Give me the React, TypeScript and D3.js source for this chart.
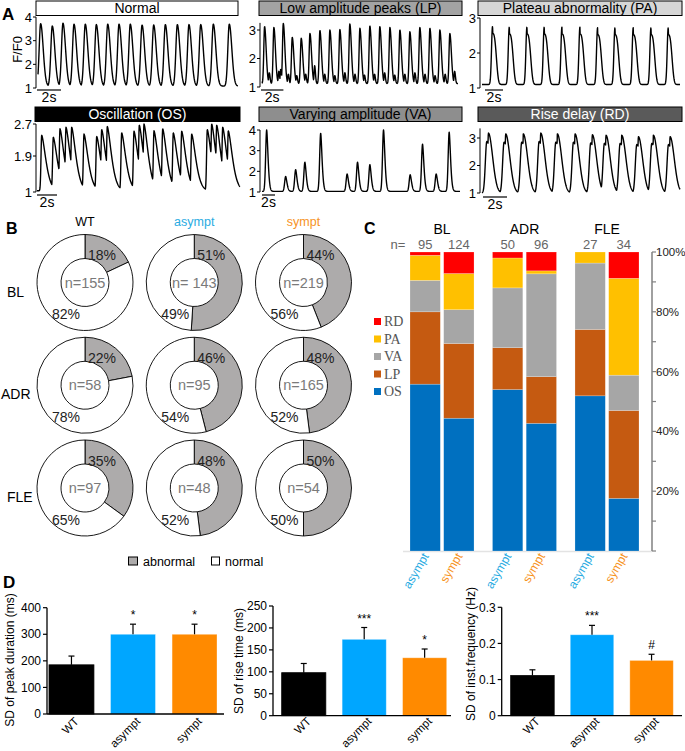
import React from 'react';
import * as d3 from 'd3';

const SANS = '"Liberation Sans", Arial, Helvetica, sans-serif';
const SERIF = '"Liberation Serif", "Times New Roman", Times, serif';

// ================= Panel A data (peak times in s, peak values in F/F0) =================
const normalPeakT = [0.22, 1.19, 2.08, 3.0, 3.94, 4.86, 5.81, 6.75, 7.69, 8.67, 9.64, 10.61, 11.61, 12.58, 13.56, 14.61, 15.94];
const normalPeakV = [3.72, 3.62, 3.74, 3.7, 3.7, 3.68, 3.7, 3.7, 3.7, 3.66, 3.66, 3.68, 3.68, 3.68, 3.68, 3.7, 3.7];

const lpPeakT = [0.18, 1.01, 1.85, 2.65, 3.45, 4.23, 5.12, 6.01, 6.9, 7.79, 8.69, 9.58, 10.47, 11.37, 12.26, 13.15, 14.04, 14.94, 15.83, 16.72];
const lpPeakV = [3.12, 3.09, 3.23, 2.74, 2.71, 2.88, 2.98, 3.0, 3.02, 3.21, 3.06, 3.14, 3.12, 3.09, 3.0, 2.94, 3.09, 3.06, 3.0, 2.88];
const lpSmallT = [0.6, 1.45, 1.62, 2.3, 3.05, 3.85, 4.65, 5.55, 6.45, 7.35, 8.25, 9.1, 10.0, 10.9, 11.8, 12.7, 13.6, 14.5, 15.4, 16.3, 17.15];
const lpSmallV = [1.5, 1.55, 1.62, 1.45, 1.4, 1.45, 1.75, 1.45, 1.4, 1.5, 1.45, 1.42, 1.45, 1.5, 1.42, 1.45, 1.5, 1.45, 1.4, 1.45, 1.55];

const paPeakT = [1.07, 2.93, 4.89, 6.81, 8.78, 10.78, 12.74, 14.67, 16.7, 18.67, 20.59];
const paPeakV = [2.76, 2.74, 2.74, 2.74, 2.74, 2.74, 2.72, 2.72, 2.72, 2.72, 2.72];

const osPeakT = [0.47, 1.63, 2.3, 2.9, 3.47, 4.7, 5.97, 6.47, 7.03, 8.47, 9.7, 10.23, 10.7, 11.7, 12.57, 13.63, 14.47, 15.47, 17.03, 17.47, 17.97, 18.57, 19.13];
const osPeakV = [2.42, 2.37, 2.58, 2.62, 2.62, 2.45, 2.39, 2.56, 2.64, 2.48, 2.52, 2.67, 2.7, 2.53, 2.58, 2.48, 2.52, 2.45, 2.56, 2.7, 2.67, 2.62, 2.53];

const vaPeakT = [0.72, 3.64, 5.18, 6.6, 9.03, 13.1, 14.7, 16.6, 18.7, 22.8, 24.7, 26.8, 28.8];
const vaPeakV = [4.0, 1.75, 2.08, 2.44, 3.84, 1.87, 2.44, 2.32, 4.0, 1.83, 3.31, 1.87, 3.89];

const rdPeakT = [0.53, 1.97, 3.44, 4.89, 6.28, 7.75, 9.19, 10.33, 11.64, 13.03, 14.28, 15.67];
const rdPeakV = [3.18, 3.15, 3.15, 3.18, 3.15, 3.15, 3.12, 3.1, 3.1, 3.05, 3.1, 3.05];

// ================= Panel B data =================
const bGroups = ['WT', 'asympt', 'sympt'];
const bConditions = ['BL', 'ADR', 'FLE'];
const blAbnormal = [18, 51, 44];
const blNormal = [82, 49, 56];
const blN = ['n=155', 'n= 143', 'n=219'];
const adrAbnormal = [22, 46, 48];
const adrNormal = [78, 54, 52];
const adrN = ['n=58', 'n=95', 'n=165'];
const fleAbnormal = [35, 48, 50];
const fleNormal = [65, 52, 50];
const fleN = ['n=97', 'n=48', 'n=54'];

// ================= Panel C data (% of cells) =================
const cGroups = ['BL', 'ADR', 'FLE'];
const cPatients = ['asympt', 'sympt'];
const cCounts = [95, 124, 50, 96, 27, 34];
const cOS = [55.8, 44.4, 54, 42.7, 51.9, 17.6];
const cLP = [24.2, 25, 14, 15.6, 22.2, 29.4];
const cVA = [10.5, 11.3, 20, 34.4, 22.2, 11.8];
const cPA = [8.4, 12.1, 10, 1, 3.7, 32.4];
const cRD = [1.1, 7.2, 2, 6.3, 0, 8.8];
const cKeys = ['OS', 'LP', 'VA', 'PA', 'RD'];
const cLegend = ['RD', 'PA', 'VA', 'LP', 'OS'];
const cTicks = [20, 40, 60, 80, 100];

// ================= Panel D data =================
const dGroups = ['WT', 'asympt', 'sympt'];
const durMean = [185, 300, 300];
const durErr = [33, 38, 38];
const durSig = ['', '*', '*'];
const riseMean = [98, 174, 132];
const riseErr = [21, 27, 20];
const riseSig = ['', '***', '*'];
const freqMean = [0.111, 0.224, 0.153];
const freqErr = [0.016, 0.026, 0.017];
const freqSig = ['', '***', '#'];

// ================= colours =================
const BLUE_TXT = '#29abe2';
const ORANGE_TXT = '#f7931e';
const BAR_COL: Record<string, string> = { WT: '#000000', asympt: '#00a6ff', sympt: '#ff8a00' };
const STACK_COL: Record<string, string> = { RD: '#ff0000', PA: '#ffc000', VA: '#a6a6a6', LP: '#c55a11', OS: '#0070c0' };
const GROUP_TXT: Record<string, string> = { WT: '#000', asympt: BLUE_TXT, sympt: ORANGE_TXT };

// ================= trace helpers =================
type Comp = { t: number[]; v: number[]; rise: number; decay: number; pow: number; shift?: number; frac?: number };

function sampleTrace(base: number, comps: Comp[], t0: number, t1: number, step = 0.02): [number, number][] {
  const out: [number, number][] = [];
  const n = Math.round((t1 - t0) / step);
  for (let k = 0; k <= n; k++) {
    const t = t0 + k * step;
    let m = 0;
    for (const c of comps) {
      for (let i = 0; i < c.t.length; i++) {
        const dt = t - (c.t[i] + (c.shift ?? 0));
        const amp = (c.v[i] - base) * (c.frac ?? 1);
        const g = dt < 0 ? Math.exp(-((dt / c.rise) ** 2)) : Math.exp(-Math.pow(dt / c.decay, c.pow));
        const val = amp * g;
        if (val > m) m = val;
      }
    }
    out.push([t, base + m]);
  }
  return out;
}

interface TraceSpec {
  title: string; boxFill: string; textFill: string; boxX0: number; boxX1: number; boxY: number;
  axisX: number; x0: number; x1: number; t0: number; pps: number;
  yDomain: [number, number]; yRange: [number, number]; ticks: number[]; axisTop: number;
  base: number; comps: Comp[]; barY: number; barX: number; ylabel?: string;
}

const traceSpecs: TraceSpec[] = [
  {
    title: 'Normal', boxFill: '#ffffff', textFill: '#000', boxX0: 36, boxX1: 238, boxY: 1,
    axisX: 36, x0: 38, x1: 238, t0: 0, pps: 12, yDomain: [1, 4], yRange: [88, 17], ticks: [1, 2, 3, 4], axisTop: 4,
    base: 1.08, comps: [{ t: normalPeakT, v: normalPeakV, rise: 0.17, decay: 0.3, pow: 2 }], barY: 90, barX: 37, ylabel: 'F/F0',
  },
  {
    title: 'Low amplitude peaks (LP)', boxFill: '#a3a3a3', textFill: '#000', boxX0: 259, boxX1: 462, boxY: 1,
    axisX: 260, x0: 262, x1: 458, t0: -0.05, pps: 11.2, yDomain: [1, 3], yRange: [87, 30], ticks: [1, 2, 3], axisTop: 3.25,
    base: 1.12, comps: [
      { t: lpPeakT, v: lpPeakV, rise: 0.1, decay: 0.2, pow: 2 },
      { t: lpSmallT, v: lpSmallV, rise: 0.07, decay: 0.1, pow: 2 },
    ], barY: 90, barX: 261,
  },
  {
    title: 'Plateau abnormality (PA)', boxFill: '#d6d6d6', textFill: '#000', boxX0: 478, boxX1: 682, boxY: 1,
    axisX: 480, x0: 482, x1: 680, t0: -0.1, pps: 9, yDomain: [1, 3], yRange: [88, 18], ticks: [1, 2, 3], axisTop: 3,
    base: 1.1, comps: [
      { t: paPeakT, v: paPeakV, rise: 0.16, decay: 0.06, pow: 2 },
      { t: paPeakT, v: paPeakV, rise: 0.16, decay: 0.5, pow: 3, frac: 0.88 },
    ], barY: 90, barX: 485,
  },
  {
    title: 'Oscillation (OS)', boxFill: '#000000', textFill: '#fff', boxX0: 35, boxX1: 240, boxY: 107,
    axisX: 36, x0: 37, x1: 240, t0: 0, pps: 10, yDomain: [1, 2.7], yRange: [192, 124], ticks: [1, 1.9, 2.7], axisTop: 2.7,
    base: 1.03, comps: [{ t: osPeakT, v: osPeakV, rise: 0.1, decay: 0.6, pow: 1.5 }], barY: 195, barX: 37,
  },
  {
    title: 'Varying amplitude (VA)', boxFill: '#8e8e8e', textFill: '#000', boxX0: 259, boxX1: 462, boxY: 107,
    axisX: 260, x0: 262, x1: 460, t0: 0, pps: 6.5, yDomain: [1, 4], yRange: [192, 130], ticks: [1, 2, 3, 4], axisTop: 4,
    base: 1.03, comps: [{ t: vaPeakT, v: vaPeakV, rise: 0.22, decay: 0.3, pow: 1.6 }], barY: 195, barX: 262,
  },
  {
    title: 'Rise delay (RD)', boxFill: '#5a5a5a', textFill: '#fff', boxX0: 478, boxX1: 682, boxY: 107,
    axisX: 480, x0: 482, x1: 680, t0: 0, pps: 12, yDomain: [1, 3], yRange: [193, 138], ticks: [1, 2, 3], axisTop: 3.35,
    base: 1.0, comps: [
      { t: rdPeakT, v: rdPeakV, rise: 0.05, decay: 0.5, pow: 2 },
      { t: rdPeakT, v: rdPeakV, rise: 0.17, decay: 0.55, pow: 2, shift: -0.13, frac: 0.86 },
    ], barY: 197, barX: 483,
  },
];

function TracePanel({ s }: { s: TraceSpec }) {
  const t1 = s.t0 + (s.x1 - s.x0) / s.pps;
  const x = d3.scaleLinear().domain([s.t0, t1]).range([s.x0, s.x1]);
  const y = d3.scaleLinear().domain(s.yDomain).range(s.yRange);
  const pts = sampleTrace(s.base, s.comps, s.t0, t1);
  const line = d3.line<[number, number]>().x(d => x(d[0])).y(d => y(d[1]));
  const barLen = x(s.t0 + 2) - x(s.t0);
  return (
    <g>
      <rect x={s.boxX0} y={s.boxY} width={s.boxX1 - s.boxX0} height={14.5} fill={s.boxFill} stroke="#000" strokeWidth={1} />
      <text x={(s.boxX0 + s.boxX1) / 2} y={s.boxY + 12.3} textAnchor="middle" fontSize={14} fill={s.textFill}>{s.title}</text>
      <line x1={s.axisX} x2={s.axisX} y1={y(s.yDomain[0])} y2={y(s.axisTop)} stroke="#000" strokeWidth={1} />
      {s.ticks.map(t => (
        <g key={t}>
          <line x1={s.axisX - 3} x2={s.axisX} y1={y(t)} y2={y(t)} stroke="#000" strokeWidth={1} />
          <text x={s.axisX - 4} y={y(t)} dy="0.35em" textAnchor="end" fontSize={13}>{String(t)}</text>
        </g>
      ))}
      <path d={line(pts) || ''} fill="none" stroke="#000" strokeWidth={1.4} strokeLinejoin="round" />
      <line x1={s.barX} x2={s.barX + barLen} y1={s.barY} y2={s.barY} stroke="#000" strokeWidth={1.2} />
      <text x={s.barX + barLen / 2} y={s.barY + 12} textAnchor="middle" fontSize={14}>2s</text>
      {s.ylabel && (
        <text transform={`translate(${22},${(s.yRange[0] + s.yRange[1]) / 2 - 3}) rotate(-90)`} textAnchor="middle" fontSize={13}>{s.ylabel}</text>
      )}
    </g>
  );
}

function PanelA() {
  return (
    <g>
      <text x={2} y={20} fontSize={17} fontWeight="bold">A</text>
      {traceSpecs.map((s, i) => <TracePanel key={i} s={s} />)}
    </g>
  );
}

// ================= Panel B =================
function PanelB() {
  const bx = d3.scalePoint<string>().domain(bGroups).range([85, 303.5]);
  const by = d3.scalePoint<string>().domain(bConditions).range([282.5, 488]);
  const rows = [
    { cond: 'BL', abn: blAbnormal, nor: blNormal, n: blN },
    { cond: 'ADR', abn: adrAbnormal, nor: adrNormal, n: adrN },
    { cond: 'FLE', abn: fleAbnormal, nor: fleNormal, n: fleN },
  ];
  const pie = d3.pie<number>().sort(null).value(d => d);
  const arc = d3.arc<d3.PieArcDatum<number>>().innerRadius(24).outerRadius(48);
  const rowLabelX: Record<string, number> = { BL: 7, ADR: 1, FLE: 7 };
  return (
    <g>
      <text x={6} y={234} fontSize={16} fontWeight="bold">B</text>
      {bGroups.map(g => (
        <text key={g} x={bx(g)} y={226} textAnchor="middle" fontSize={12.5} fill={GROUP_TXT[g]}>{g}</text>
      ))}
      {rows.map(r => {
        const cy = by(r.cond) as number;
        return (
          <g key={r.cond}>
            <text x={rowLabelX[r.cond]} y={cy + 14} fontSize={14}>{r.cond}</text>
            {bGroups.map((g, i) => {
              const cx = bx(g) as number;
              const arcs = pie([r.abn[i], r.nor[i]]);
              return (
                <g key={g} transform={`translate(${cx},${cy})`}>
                  {arcs.map((a, j) => (
                    <path key={j} d={arc(a) || ''} fill={j === 0 ? '#adabab' : '#ffffff'} stroke="#000" strokeWidth={0.9} />
                  ))}
                  <text x={17} y={-27} dy="0.35em" textAnchor="middle" fontSize={14} fill="#222">{r.abn[i]}%</text>
                  <text x={-19} y={32} dy="0.35em" textAnchor="middle" fontSize={14} fill="#222">{r.nor[i]}%</text>
                  <text x={0} y={0} dy="0.35em" textAnchor="middle" fontSize={14.5} fill="#7a7a7a">{r.n[i]}</text>
                </g>
              );
            })}
          </g>
        );
      })}
      <rect x={128.5} y={557} width={9} height={8} fill="#adabab" stroke="#000" strokeWidth={1} />
      <text x={143} y={565.5} fontSize={12.5}>abnormal</text>
      <rect x={211.5} y={557} width={8} height={8} fill="#fff" stroke="#000" strokeWidth={1} />
      <text x={225} y={565.5} fontSize={12.5}>normal</text>
    </g>
  );
}

// ================= Panel C =================
function PanelC() {
  const gx = d3.scaleBand<string>().domain(cGroups).range([410, 639]).paddingInner(0.224).paddingOuter(0);
  const px = d3.scaleBand<string>().domain(cPatients).range([0, gx.bandwidth()]).paddingInner(0.1).paddingOuter(0);
  const y = d3.scaleLinear().domain([0, 100]).range([551, 252]);
  const rows = cCounts.map((n, i) => ({
    group: cGroups[Math.floor(i / 2)], patient: cPatients[i % 2], n,
    OS: cOS[i], LP: cLP[i], VA: cVA[i], PA: cPA[i], RD: cRD[i],
  }));
  const series = d3.stack<any>().keys(cKeys)(rows);
  const bx = (r: any) => (gx(r.group) as number) + (px(r.patient) as number);
  const bw = px.bandwidth();
  const axisX = 652;
  const minor = d3.range(0, 101, 10);
  return (
    <g>
      <text x={364} y={234} fontSize={16} fontWeight="bold">C</text>
      {cGroups.map(g => (
        <text key={g} x={(gx(g) as number) + gx.bandwidth() / 2} y={234} textAnchor="middle" fontSize={14}>{g}</text>
      ))}
      <text x={398} y={249} textAnchor="middle" fontSize={13} fill="#666">n=</text>
      {rows.map((r, i) => (
        <text key={i} x={bx(r) + bw / 2} y={249} textAnchor="middle" fontSize={13} fill="#666">{r.n}</text>
      ))}
      <line x1={403} x2={axisX} y1={551.5} y2={551.5} stroke="#e3e3e3" strokeWidth={1.5} />
      {series.map(s => (
        <g key={s.key}>
          {s.map((d, i) => (
            d[1] - d[0] > 0 ? (
              <rect key={i} x={bx(rows[i])} width={bw} y={y(d[1])} height={y(d[0]) - y(d[1])}
                fill={STACK_COL[s.key]} stroke="rgba(255,255,255,0.35)" strokeWidth={0.6} />
            ) : null
          ))}
        </g>
      ))}
      {rows.map((r, i) => (
        <text key={i} transform={`translate(${bx(r) + bw / 2 + 4},${556}) rotate(-60)`} textAnchor="end" fontSize={12}
          fill={r.patient === 'asympt' ? BLUE_TXT : ORANGE_TXT}>{r.patient}</text>
      ))}
      <line x1={axisX} x2={axisX} y1={y(0)} y2={y(100)} stroke="#808080" strokeWidth={1.5} />
      {minor.map(t => (
        <line key={t} x1={axisX} x2={axisX + 4} y1={y(t)} y2={y(t)} stroke="#808080" strokeWidth={1.2} />
      ))}
      {cTicks.map(t => (
        <text key={t} x={axisX + 4} y={y(t)} dy="0.35em" fontSize={11.5} fill="#222">{t}%</text>
      ))}
      {cLegend.map((k, i) => (
        <g key={k}>
          <rect x={374} y={318 + i * 17.5} width={7} height={7} fill={STACK_COL[k]} />
          <text x={384} y={321.5 + i * 17.5} dy="0.35em" fontSize={14} fontFamily={SERIF} fill="#555">{k}</text>
        </g>
      ))}
    </g>
  );
}

// ================= Panel D =================
interface BarSpec {
  axisX: number; axisEnd: number; barRange: [number, number]; yRange: [number, number]; yMax: number;
  ticks: number[]; fmt: (v: number) => string; means: number[]; errs: number[]; sigs: string[];
  label: string; labelX: number; labelY: number;
}

function BarChart({ s }: { s: BarSpec }) {
  const x = d3.scaleBand<string>().domain(dGroups).range(s.barRange).paddingInner(0.27).paddingOuter(0);
  const y = d3.scaleLinear().domain([0, s.yMax]).range(s.yRange);
  const bw = x.bandwidth();
  return (
    <g>
      {dGroups.map((g, i) => {
        const cx = (x(g) as number) + bw / 2;
        const top = y(s.means[i]);
        const etop = y(s.means[i] + s.errs[i]);
        return (
          <g key={g}>
            <rect x={x(g)} y={top} width={bw} height={y(0) - top} fill={BAR_COL[g]} stroke={g === 'WT' ? '#000' : 'rgba(255,255,255,0.4)'} strokeWidth={0.8} />
            <line x1={cx} x2={cx} y1={top} y2={etop} stroke="#000" strokeWidth={1.2} />
            <line x1={cx - 3} x2={cx + 3} y1={etop} y2={etop} stroke="#000" strokeWidth={1.2} />
            {s.sigs[i] && (
              <text x={cx} y={etop - 5} textAnchor="middle" fontSize={12}>{s.sigs[i]}</text>
            )}
            <text transform={`translate(${cx + 8},${722}) rotate(-45)`} textAnchor="end" fontSize={11.5}>{g}</text>
          </g>
        );
      })}
      <line x1={s.axisX} x2={s.axisEnd} y1={y(0)} y2={y(0)} stroke="#000" strokeWidth={1.3} />
      <line x1={s.axisX} x2={s.axisX} y1={y(0)} y2={y(s.yMax)} stroke="#000" strokeWidth={1.3} />
      {s.ticks.map(t => (
        <g key={t}>
          <line x1={s.axisX - 4} x2={s.axisX} y1={y(t)} y2={y(t)} stroke="#000" strokeWidth={1.2} />
          <text x={s.axisX - 6} y={y(t)} dy="0.35em" textAnchor="end" fontSize={12}>{s.fmt(t)}</text>
        </g>
      ))}
      <text transform={`translate(${s.labelX},${s.labelY}) rotate(-90)`} textAnchor="middle" fontSize={12}>{s.label}</text>
    </g>
  );
}

function PanelD() {
  const specs: BarSpec[] = [
    {
      axisX: 47, axisEnd: 224, barRange: [49, 217], yRange: [714, 607.7], yMax: 400, ticks: [0, 100, 200, 300, 400],
      fmt: v => String(v), means: durMean, errs: durErr, sigs: durSig, label: 'SD of peak duration (ms)', labelX: 14, labelY: 660,
    },
    {
      axisX: 273, axisEnd: 451, barRange: [281.7, 446.7], yRange: [715.7, 606], yMax: 250, ticks: [0, 50, 100, 150, 200, 250],
      fmt: v => String(v), means: riseMean, errs: riseErr, sigs: riseSig, label: 'SD of rise time (ms)', labelX: 243, labelY: 661,
    },
    {
      axisX: 501.7, axisEnd: 682, barRange: [510.7, 673.3], yRange: [715.7, 607.3], yMax: 0.3, ticks: [0, 0.1, 0.2, 0.3],
      fmt: v => (v === 0 ? '0' : d3.format('.1f')(v)), means: freqMean, errs: freqErr, sigs: freqSig,
      label: 'SD of inst.frequency (Hz)', labelX: 475, labelY: 654,
    },
  ];
  return (
    <g>
      <text x={3} y={588} fontSize={17} fontWeight="bold">D</text>
      {specs.map((s, i) => <BarChart key={i} s={s} />)}
    </g>
  );
}

export default function App() {
  return (
    <svg width={685} height={751} viewBox="0 0 685 751" fontFamily={SANS}
      style={{ position: 'absolute', left: 0, top: 0, background: '#ffffff' }}>
      <rect x={0} y={0} width={685} height={751} fill="#fff" />
      <PanelA />
      <PanelB />
      <PanelC />
      <PanelD />
    </svg>
  );
}
